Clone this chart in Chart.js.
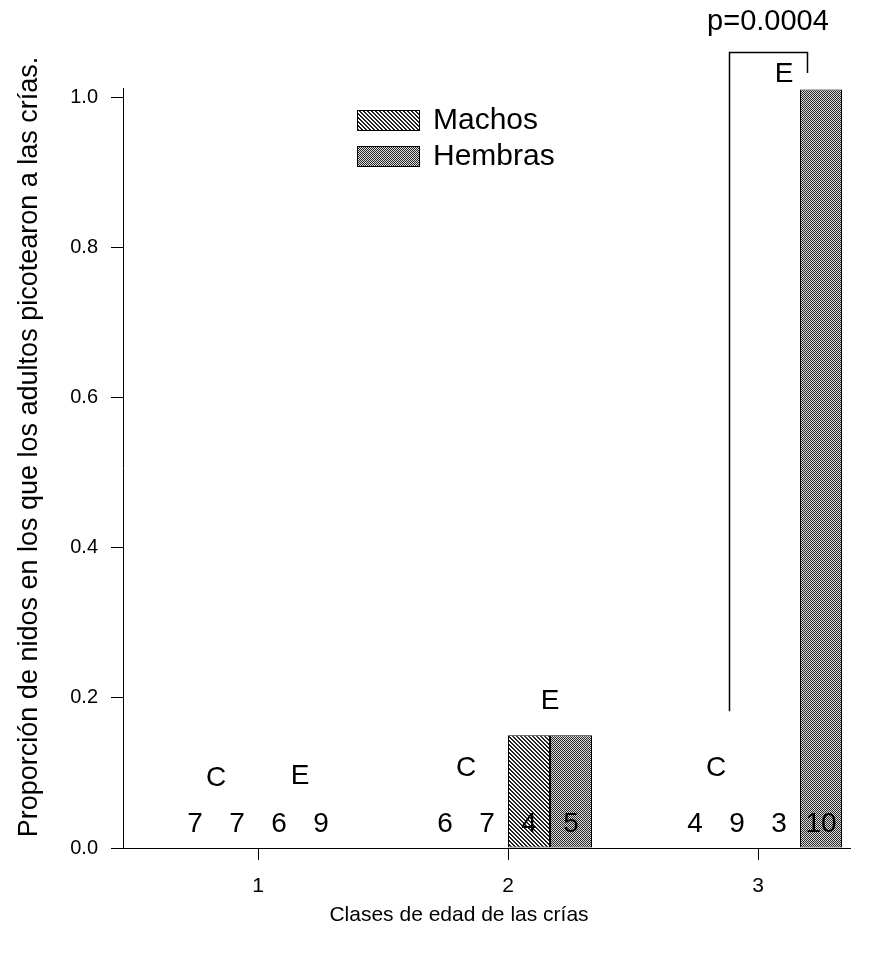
<!DOCTYPE html>
<html>
<head>
<meta charset="utf-8">
<script src="https://cdn.jsdelivr.net/npm/chart.js@4.4.1/dist/chart.umd.min.js"></script>
<style>
  html, body { margin: 0; padding: 0; background: #fff; }
  #wrap { width: 884px; height: 958px; }
</style>
</head>
<body>
<div id="wrap"><canvas id="chart"></canvas></div>
<script>
// age classes of the chicks (x axis)
const classes = [1, 2, 3];
// proportion of nests where adults pecked the chicks
const cMachos  = [0, 0, 0];
const cHembras = [0, 0, 0];
const eMachos  = [0, 0.15, 0];
const eHembras = [0, 0.15, 1.01];
// sample sizes written under each bar
const nCMachos  = [7, 6, 4];
const nCHembras = [7, 7, 9];
const nEMachos  = [6, 4, 3];
const nEHembras = [9, 5, 10];
const yTicks = [0, 0.2, 0.4, 0.6, 0.8, 1.0];
const pText = 'p=0.0004';
const xTitle = 'Clases de edad de las crías';
const yTitle = 'Proporción de nidos en los que los adultos picotearon a las crías.';

const FONT = '"Liberation Sans", Arial, Helvetica, sans-serif';

// hatch patterns, like the scanned figure
function makePattern(kind) {
  const c = document.createElement('canvas');
  c.width = 4; c.height = 4;
  const g = c.getContext('2d');
  if (kind === 'machos') {
    g.fillStyle = '#fff';
    g.fillRect(0, 0, 4, 4);
    g.fillStyle = '#222';
    for (let x = 0; x < 4; x++) {
      for (let y = 0; y < 4; y++) {
        const d = (x - y + 8) % 4;
        if (d === 0 || d === 1) g.fillRect(x, y, 1, 1);
      }
    }
  } else {
    g.fillStyle = '#dadada';
    g.fillRect(0, 0, 4, 4);
    g.fillStyle = '#2a2a2a';
    for (let x = 0; x < 4; x++) {
      for (let y = 0; y < 4; y++) {
        if ((x + y) % 2 === 0) g.fillRect(x, y, 1, 1);
      }
    }
  }
  return document.createElement('canvas').getContext('2d').createPattern(c, 'repeat');
}
const patMachos = makePattern('machos');
const patHembras = makePattern('hembras');

const toPoints = arr => classes.map((x, i) => ({ x: x, y: arr[i] }));

// where the C / E letters and the bracket sit (data units)
const groupLetters = {
  cLevel: [0.093, 0.106, 0.106],
  eLevel: [0.095, 0.195, 1.03],
  eShift: [0, 0, -16]
};
const bracket = { x0: 2.884, x1: 3.196, top: 1.06, leftEnd: 0.182, rightEnd: 1.032, textY: 1.10 };

const extras = {
  id: 'extras',
  afterDatasetsDraw(chart) {
    const ctx = chart.ctx;
    const xs = chart.scales.x, ys = chart.scales.y;
    const counts = [nCMachos, nCHembras, nEMachos, nEHembras];
    ctx.save();
    ctx.fillStyle = '#000';
    ctx.strokeStyle = '#000';
    ctx.textAlign = 'center';
    ctx.textBaseline = 'middle';
    ctx.font = '28px ' + FONT;

    // n under each bar
    counts.forEach((arr, d) => {
      const meta = chart.getDatasetMeta(d);
      meta.data.forEach((bar, i) => {
        ctx.fillText(String(arr[i]), bar.x, ys.getPixelForValue(0.031));
      });
    });

    // C / E group letters
    const m0 = chart.getDatasetMeta(0).data, m1 = chart.getDatasetMeta(1).data;
    const m2 = chart.getDatasetMeta(2).data, m3 = chart.getDatasetMeta(3).data;
    classes.forEach((c, i) => {
      ctx.fillText('C', (m0[i].x + m1[i].x) / 2, ys.getPixelForValue(groupLetters.cLevel[i]));
      ctx.fillText('E', (m2[i].x + m3[i].x) / 2 + groupLetters.eShift[i], ys.getPixelForValue(groupLetters.eLevel[i]));
    });

    // significance bracket
    const bx0 = Math.round(xs.getPixelForValue(bracket.x0)) + 0.5;
    const bx1 = Math.round(xs.getPixelForValue(bracket.x1)) + 0.5;
    const by = Math.round(ys.getPixelForValue(bracket.top)) + 0.5;
    ctx.lineWidth = 1.5;
    ctx.beginPath();
    ctx.moveTo(bx0, ys.getPixelForValue(bracket.leftEnd));
    ctx.lineTo(bx0, by);
    ctx.lineTo(bx1, by);
    ctx.lineTo(bx1, ys.getPixelForValue(bracket.rightEnd));
    ctx.stroke();
    ctx.font = '29px ' + FONT;
    ctx.fillText(pText, xs.getPixelForValue(3.04), ys.getPixelForValue(bracket.textY));

    // axis titles
    ctx.font = '21px ' + FONT;
    ctx.fillText(xTitle, xs.getPixelForValue(1.804), chart.height - 43);
    ctx.save();
    ctx.translate(30, ys.getPixelForValue(0.534));
    ctx.rotate(-Math.PI / 2);
    ctx.font = '27px ' + FONT;
    ctx.fillText(yTitle, 0, 0);
    ctx.restore();

    // legend
    const items = [['Machos', patMachos], ['Hembras', patHembras]];
    ctx.font = '30px ' + FONT;
    items.forEach((it, k) => {
      const top = 110 + k * 36;
      ctx.fillStyle = it[1];
      ctx.fillRect(357, top, 63, 21);
      ctx.lineWidth = 1;
      ctx.strokeRect(357.5, top + 0.5, 62, 20);
      ctx.fillStyle = '#000';
      ctx.textAlign = 'left';
      ctx.fillText(it[0], 433, top + 11);
    });
    ctx.restore();
  }
};

const barBase = {
  borderColor: '#000',
  borderWidth: 1,
  borderSkipped: false,
  categoryPercentage: 0.672,
  barPercentage: 1.0
};

new Chart(document.getElementById('chart'), {
  type: 'bar',
  data: {
    datasets: [
      Object.assign({ label: 'C Machos', data: toPoints(cMachos), backgroundColor: patMachos }, barBase),
      Object.assign({ label: 'C Hembras', data: toPoints(cHembras), backgroundColor: patHembras }, barBase),
      Object.assign({ label: 'E Machos', data: toPoints(eMachos), backgroundColor: patMachos }, barBase),
      Object.assign({ label: 'E Hembras', data: toPoints(eHembras), backgroundColor: patHembras }, barBase)
    ]
  },
  options: {
    responsive: true,
    maintainAspectRatio: false,
    animation: false,
    layout: { padding: { top: 88, right: 34, left: 0, bottom: 0 } },
    plugins: {
      legend: { display: false },
      tooltip: { enabled: false }
    },
    scales: {
      x: {
        type: 'linear',
        min: 0.46,
        max: 3.368,
        offset: false,
        afterBuildTicks: s => { s.ticks = classes.map(v => ({ value: v })); },
        afterFit: s => { s.height = 110; },
        grid: { offset: false, drawOnChartArea: false, drawTicks: true, tickLength: 12, color: '#000' },
        border: { display: true, color: '#000', width: 1 },
        ticks: { color: '#000', padding: 14, font: { family: FONT, size: 21 }, callback: v => String(v) }
      },
      y: {
        min: 0,
        max: 1.012,
        afterBuildTicks: s => { s.ticks = yTicks.map(v => ({ value: v })); },
        afterFit: s => { s.width = 123; },
        grid: { drawOnChartArea: false, drawTicks: true, tickLength: 12, color: '#000' },
        border: { display: true, color: '#000', width: 1 },
        ticks: { color: '#000', padding: 13, font: { family: FONT, size: 20 }, callback: v => v.toFixed(1) }
      }
    }
  },
  plugins: [extras]
});
</script>
</body>
</html>
